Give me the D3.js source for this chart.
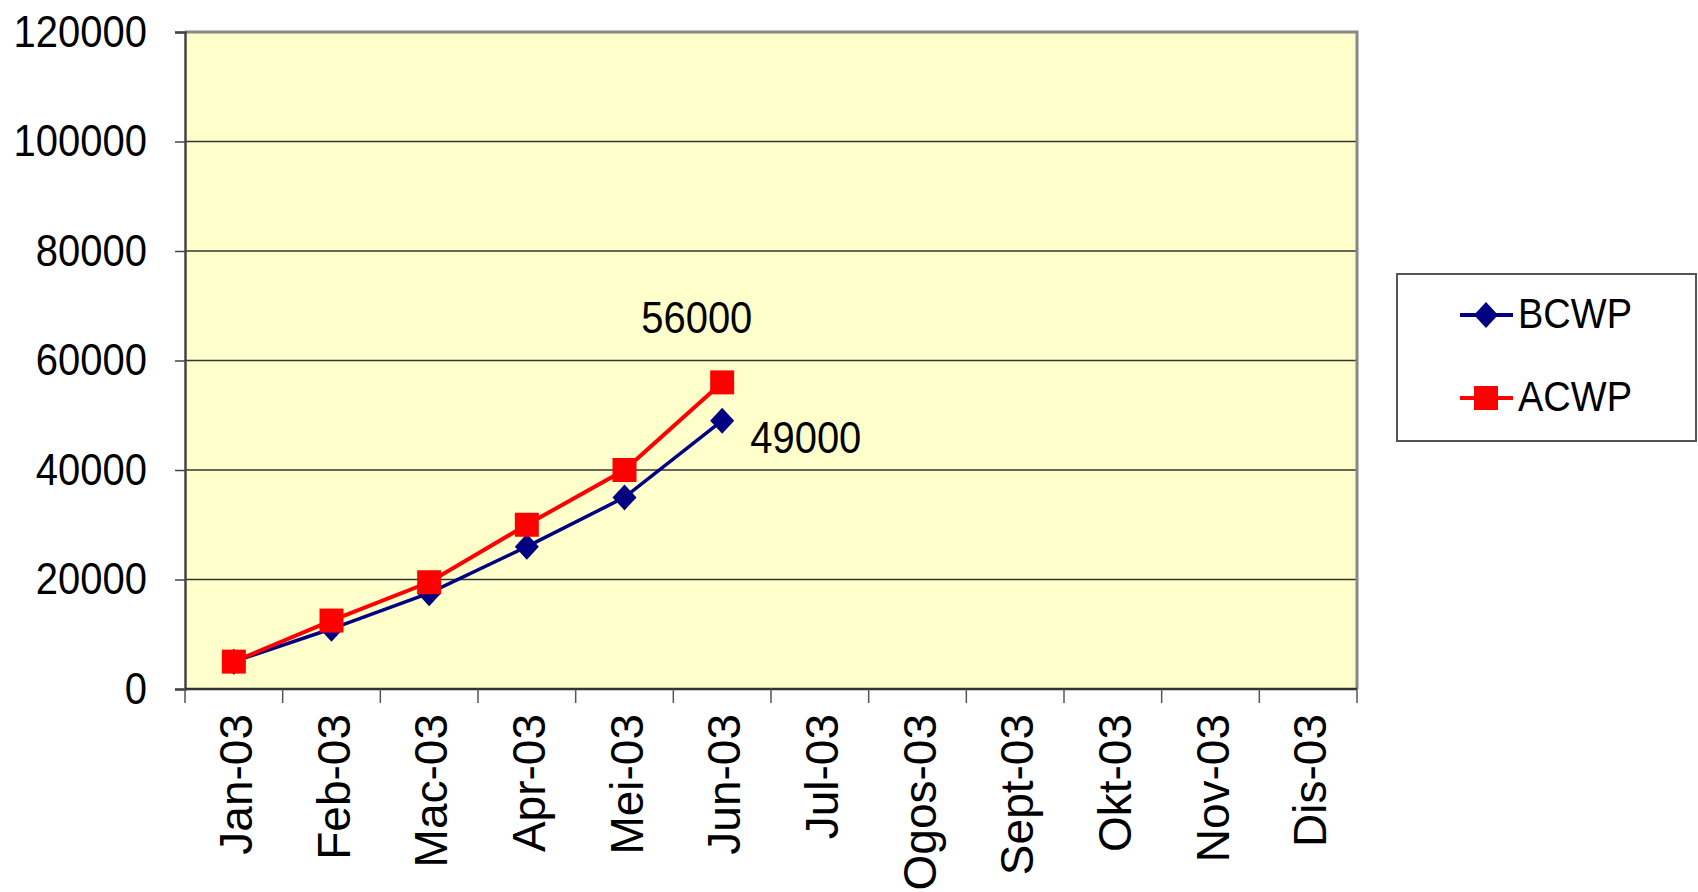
<!DOCTYPE html>
<html>
<head>
<meta charset="utf-8">
<script src="https://cdn.jsdelivr.net/npm/d3@7"></script>
<style>
  html, body { margin: 0; padding: 0; background: #fff; }
  svg { display: block; }
  text { font-family: "Liberation Sans", Arial, sans-serif; fill: #000; }
</style>
</head>
<body>
<svg id="chart" width="1698" height="892"></svg>
<script>
// Monthly categories and cumulative cost series
const months = ["Jan-03", "Feb-03", "Mac-03", "Apr-03", "Mei-03", "Jun-03",
                "Jul-03", "Ogos-03", "Sept-03", "Okt-03", "Nov-03", "Dis-03"];
const bcwp = [5000, 11000, 17500, 26000, 35000, 49000];
const acwp = [5000, 12500, 19500, 30000, 40000, 56000];
const yTicks = [0, 20000, 40000, 60000, 80000, 100000, 120000];
const seriesNames = ["BCWP", "ACWP"];

const svg = d3.select("#chart");
const plot = { left: 185, right: 1357, top: 32, bottom: 689 };
const stretch = 1.1; // text is drawn slightly tall

const x = d3.scaleBand().domain(months).range([plot.left, plot.right]);
const y = d3.scaleLinear().domain([0, 120000]).range([plot.bottom, plot.top]);

// plot background
svg.append("rect")
  .attr("x", plot.left).attr("y", plot.top)
  .attr("width", plot.right - plot.left).attr("height", plot.bottom - plot.top)
  .attr("fill", "#FFFFCC");

// horizontal gridlines
svg.append("g").selectAll("line").data(yTicks.filter(d => d > 0 && d < 120000)).join("line")
  .attr("x1", plot.left).attr("x2", plot.right)
  .attr("y1", d => y(d)).attr("y2", d => y(d))
  .attr("stroke", "#333").attr("stroke-width", 1.5);

// frame: top and right in gray
svg.append("path")
  .attr("d", `M${plot.left},${plot.top}H${plot.right}V${plot.bottom}`)
  .attr("fill", "none").attr("stroke", "#888").attr("stroke-width", 3);

// y axis
const yAxis = d3.axisLeft(y).tickValues(yTicks).tickSize(10).tickFormat(d3.format("d"));
const gy = svg.append("g").attr("transform", `translate(${plot.left},0)`).call(yAxis);
gy.select(".domain").attr("stroke", "#444").attr("stroke-width", 2.5);
gy.selectAll(".tick line").attr("stroke", "#444").attr("stroke-width", 1.5);
gy.selectAll(".tick text")
  .attr("x", null).attr("dy", null)
  .attr("font-size", 40)
  .attr("text-anchor", "end")
  .attr("transform", `translate(-38,14) scale(1,${stretch})`);

// x axis: ticks at category boundaries
svg.append("line")
  .attr("x1", plot.left).attr("x2", plot.right)
  .attr("y1", plot.bottom).attr("y2", plot.bottom)
  .attr("stroke", "#333").attr("stroke-width", 2.5);
const bounds = months.map(m => x(m)).concat([plot.right]);
svg.append("g").selectAll("line").data(bounds).join("line")
  .attr("x1", d => d).attr("x2", d => d)
  .attr("y1", plot.bottom).attr("y2", plot.bottom + 14)
  .attr("stroke", "#555").attr("stroke-width", 1.5);
svg.append("g").selectAll("text").data(months).join("text")
  .attr("font-size", 46)
  .attr("text-anchor", "end")
  .attr("transform", d => `translate(${x(d) + x.bandwidth() / 2 + 18},${plot.bottom + 25}) rotate(-90)`)
  .text(d => d);

// series lines and markers
const cx = i => x(months[i]) + x.bandwidth() / 2;
const line = d3.line().x((d, i) => cx(i)).y(d => y(d));

const diamond = "M0,-13L12,0L0,13L-12,0Z";
const square = "M-12,-12H12V12H-12Z";

svg.append("path").datum(bcwp).attr("d", line)
  .attr("fill", "none").attr("stroke", "#000080").attr("stroke-width", 3.5);
svg.append("path").datum(acwp).attr("d", line)
  .attr("fill", "none").attr("stroke", "#FF0000").attr("stroke-width", 4);

svg.append("g").selectAll("path").data(bcwp).join("path")
  .attr("d", diamond).attr("fill", "#000080")
  .attr("transform", (d, i) => `translate(${cx(i)},${y(d)})`);
svg.append("g").selectAll("path").data(acwp).join("path")
  .attr("d", square).attr("fill", "#FF0000")
  .attr("transform", (d, i) => `translate(${cx(i)},${y(d)})`);

// value labels on the last points
const last = bcwp.length - 1;
svg.append("text")
  .attr("font-size", 40)
  .attr("transform", `translate(${cx(last) - 81},${y(acwp[last]) - 49}) scale(1,${stretch})`)
  .text(acwp[last]);
svg.append("text")
  .attr("font-size", 40)
  .attr("transform", `translate(${cx(last) + 28},${y(bcwp[last]) + 32}) scale(1,${stretch})`)
  .text(bcwp[last]);

// legend
const lg = svg.append("g");
lg.append("rect")
  .attr("x", 1397).attr("y", 274).attr("width", 299).attr("height", 167)
  .attr("fill", "#fff").attr("stroke", "#555").attr("stroke-width", 2);
const legendRows = [
  { name: seriesNames[0], color: "#000080", shape: diamond, y: 315 },
  { name: seriesNames[1], color: "#FF0000", shape: square, y: 398 }
];
legendRows.forEach(r => {
  lg.append("line").attr("x1", 1460).attr("x2", 1513).attr("y1", r.y).attr("y2", r.y)
    .attr("stroke", r.color).attr("stroke-width", 4);
  lg.append("path").attr("d", r.shape).attr("fill", r.color)
    .attr("transform", `translate(1486,${r.y})`);
  lg.append("text").attr("font-size", 38)
    .attr("transform", `translate(1518,${r.y + 13}) scale(1,${stretch})`)
    .text(r.name);
});
</script>
</body>
</html>
